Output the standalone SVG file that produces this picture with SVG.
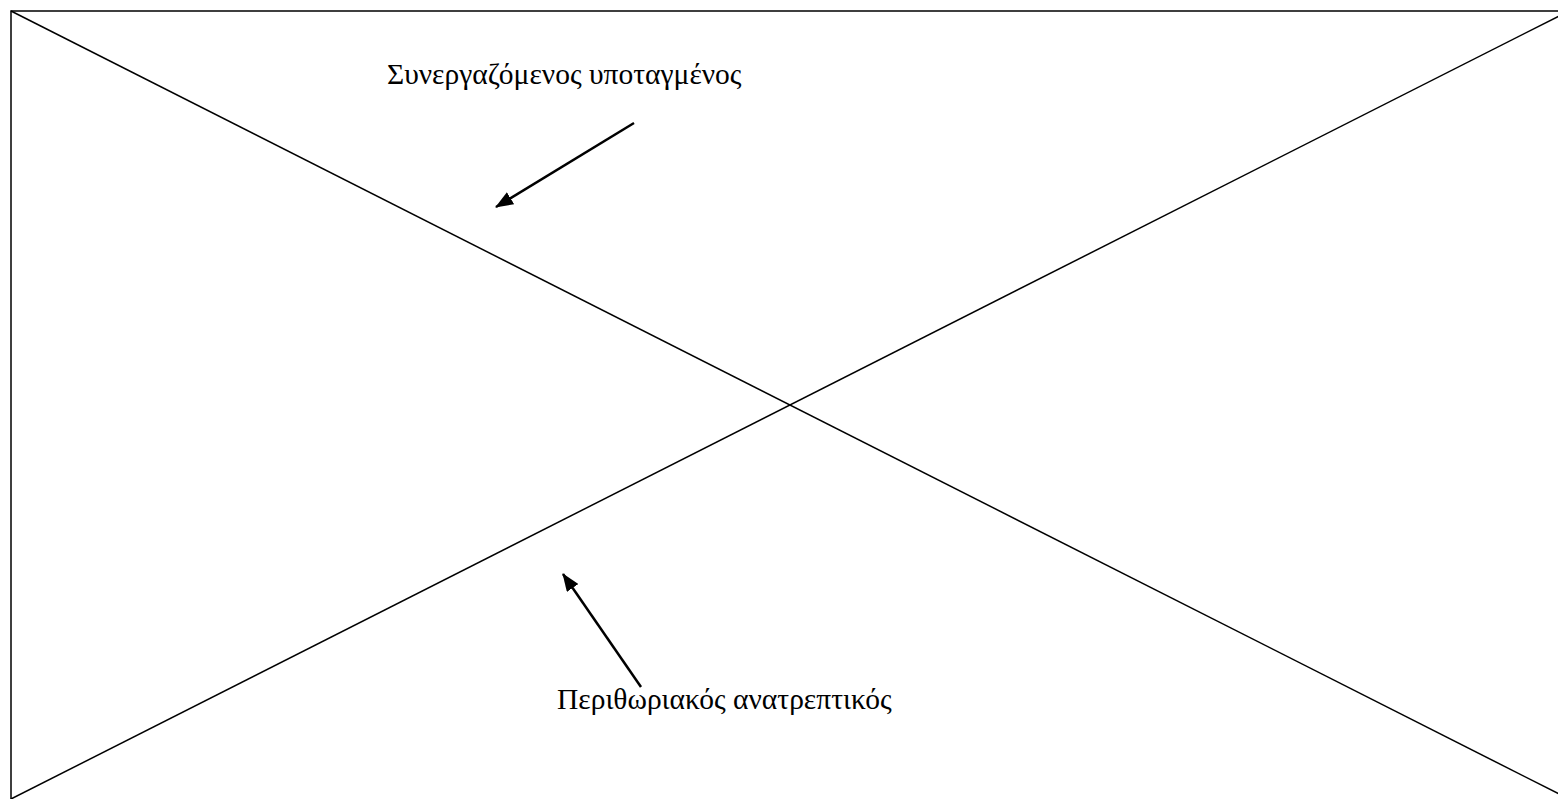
<svg xmlns="http://www.w3.org/2000/svg" width="1558" height="799" viewBox="0 0 1558 799">
<style>
.ln{stroke:#000;stroke-width:1.5;fill:none}
.ar{stroke:#000;stroke-width:2.5;fill:none}
.lbl{font-family:"Liberation Serif","Times New Roman",serif;font-size:29.5px;fill:#000}
</style>
<defs>
<marker id="ah" markerWidth="18" markerHeight="14" refX="17" refY="7" orient="auto" markerUnits="userSpaceOnUse" viewBox="0 0 18 14">
<path d="M0,0 L18,7 L0,14 Z" fill="#000"/>
</marker>
</defs>
<rect width="1558" height="799" fill="#fff"/>
<g id="frame">
<rect class="ln" x="11" y="11" width="1558" height="792"/>
<line class="ln" x1="11" y1="11" x2="1569" y2="799"/>
<line class="ln" x1="11" y1="799" x2="1569" y2="11"/>
</g>
<g id="connectors">
<line class="ar" x1="634" y1="123" x2="496" y2="207" marker-end="url(#ah)"/>
<line class="ar" x1="641" y1="687" x2="563" y2="574" marker-end="url(#ah)"/>
</g>
<g id="label-top"><text class="lbl" x="387" y="84">Συνεργαζόμενος υποταγμένος</text></g>
<g id="label-bottom"><text class="lbl" x="557" y="709">Περιθωριακός ανατρεπτικός</text></g>
</svg>
